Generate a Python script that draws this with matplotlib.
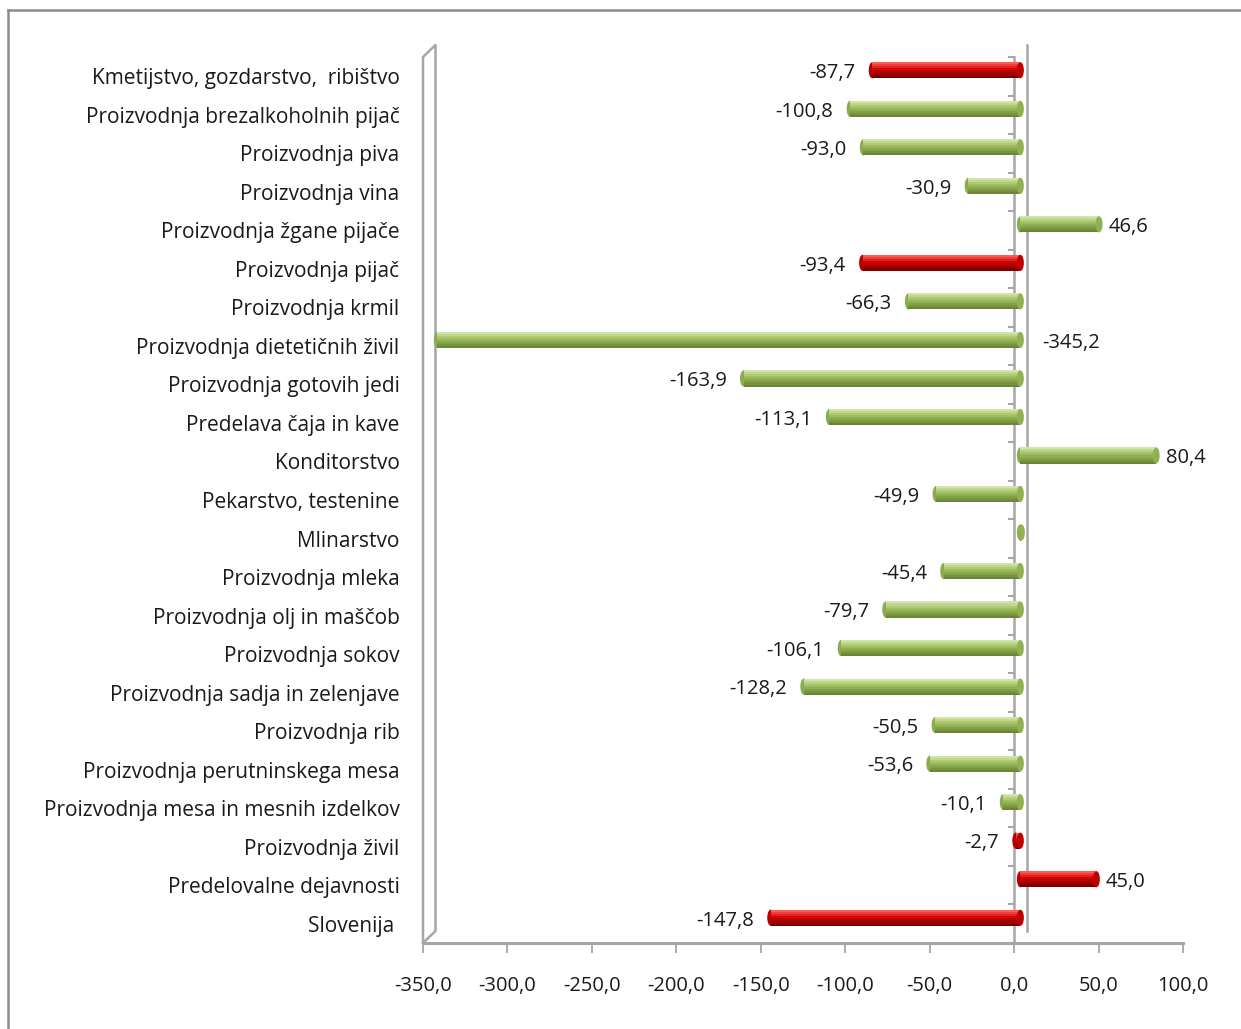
import matplotlib
matplotlib.use('Agg')
import matplotlib.pyplot as plt
from matplotlib.lines import Line2D
from matplotlib.patches import Ellipse
from matplotlib.colors import to_rgb
import numpy as np

# Data (top to bottom as in the chart)
categories = [
    'Kmetijstvo, gozdarstvo,  ribištvo',
    'Proizvodnja brezalkoholnih pijač',
    'Proizvodnja piva',
    'Proizvodnja vina',
    'Proizvodnja žgane pijače',
    'Proizvodnja pijač',
    'Proizvodnja krmil',
    'Proizvodnja dietetičnih živil',
    'Proizvodnja gotovih jedi',
    'Predelava čaja in kave',
    'Konditorstvo',
    'Pekarstvo, testenine',
    'Mlinarstvo',
    'Proizvodnja mleka',
    'Proizvodnja olj in maščob',
    'Proizvodnja sokov',
    'Proizvodnja sadja in zelenjave',
    'Proizvodnja rib',
    'Proizvodnja perutninskega mesa',
    'Proizvodnja mesa in mesnih izdelkov',
    'Proizvodnja živil',
    'Predelovalne dejavnosti',
    'Slovenija ',
]
values = [-87.7, -100.8, -93.0, -30.9, 46.6, -93.4, -66.3, -345.2, -163.9, -113.1,
          80.4, -49.9, 0.6, -45.4, -79.7, -106.1, -128.2, -50.5, -53.6, -10.1,
          -2.7, 45.0, -147.8]
highlighted = ['Kmetijstvo, gozdarstvo,  ribištvo', 'Proizvodnja pijač',
               'Proizvodnja živil', 'Predelovalne dejavnosti', 'Slovenija ']
x_ticks = [-350, -300, -250, -200, -150, -100, -50, 0, 50, 100]

plt.rcParams['font.family'] = ['Open Sans', 'DejaVu Sans']
text_color = '#1a1a1a'
line_color = '#a6a6a6'
fs = 14.5

fig = plt.figure(figsize=(12.41, 10.29), dpi=100)
W, H = 1241, 1029
ax = fig.add_axes([423 / W, 86 / H, 760 / W, 886 / H])

n = len(categories)
y = np.arange(n)
ax.set_xlim(-350, 100)
ax.set_ylim(n - 0.5, -0.5)

# depth vector of the 3D look (12 px right, 12 px up) in data units
p0 = ax.transData.transform((0, 0))
p1 = ax.transData.inverted().transform(p0 + np.array([12.5, 12.0]))
dx, dy = p1[0], p1[1]
cap_w = ax.transData.inverted().transform(p0 + np.array([7.0, 0]))[0]

# left wall
ax.plot([-350, -350, -350 + dx, -350 + dx, -350],
        [n - 0.5, -0.5, -0.5 + dy, n - 0.5 + dy, n - 0.5],
        color=line_color, lw=1.8, clip_on=False, zorder=1)
# front and back zero axis lines
ax.plot([0, 0], [n - 0.5, -0.5], color=line_color, lw=1.8, clip_on=False, zorder=1)
ax.plot([dx, dx], [n - 0.5 + dy, -0.5 + dy], color=line_color, lw=1.8,
        clip_on=False, zorder=1)
# small ticks on the zero axis at category boundaries
for b in np.arange(n + 1) - 0.5:
    ax.plot([-3.2, 0], [b, b], color=line_color, lw=1.5, clip_on=False, zorder=1)


def mix(c1, c2, t):
    a, b = np.array(to_rgb(c1)), np.array(to_rgb(c2))
    return tuple(a + (b - a) * t)


# bars drawn as shaded cylinders
yc = y + dy / 2
left = dx / 2
bar_h = 0.42
nb = 8
for i, (cat, v) in enumerate(zip(categories, values)):
    red = cat in highlighted
    light = '#ff5a50' if red else '#d3e4a8'
    main = '#d00000' if red else '#9bbb59'
    dark = '#7a0000' if red else '#6a8535'
    for k in range(nb):
        t = k / (nb - 1)
        c = mix(light, main, t / 0.45) if t < 0.45 else mix(main, dark, (t - 0.45) / 0.55)
        yy = yc[i] - bar_h / 2 + (k + 0.5) * bar_h / nb
        ax.barh(yy, v, left=left, height=bar_h / nb, color=c, linewidth=0, zorder=3)
    ends = sorted([left, left + v])
    ax.add_patch(Ellipse((ends[0], yc[i]), cap_w, bar_h, color=mix(main, dark, 0.3),
                         zorder=2.9, linewidth=0))
    ax.add_patch(Ellipse((ends[1], yc[i]), cap_w, bar_h, color=mix(main, dark, 0.2),
                         zorder=3.1, linewidth=0))

# value labels
for i, v in enumerate(values):
    if abs(v) < 1:
        continue
    lab = f'{v:.1f}'.replace('.', ',')
    end = v + left
    if v < 0 and end - 20 > -350:
        ax.annotate(lab, (end, yc[i]), xytext=(-12, -2), textcoords='offset points',
                    ha='right', va='center', fontsize=fs, color=text_color)
    elif v < 0:
        ax.annotate(lab, (left, yc[i]), xytext=(16, -2), textcoords='offset points',
                    ha='left', va='center', fontsize=fs, color=text_color)
    else:
        ax.annotate(lab, (end, yc[i]), xytext=(7, -2), textcoords='offset points',
                    ha='left', va='center', fontsize=fs, color=text_color)

# axes styling
for s in ['top', 'right', 'left']:
    ax.spines[s].set_visible(False)
ax.spines['bottom'].set_color(line_color)
ax.spines['bottom'].set_linewidth(2.2)
ax.set_xticks(x_ticks)
ax.set_xticklabels([f'{t:.1f}'.replace('.', ',') for t in x_ticks],
                   fontsize=fs, color=text_color)
ax.tick_params(axis='x', direction='out', length=7, width=1.3, colors=line_color,
               labelcolor=text_color, pad=17)
ax.set_yticks(y)
ax.set_yticklabels(categories, fontsize=15, color=text_color)
ax.tick_params(axis='y', length=0, pad=17)

# outer chart border (left and top)
fig.add_artist(Line2D([8 / W, 8 / W], [0, 1 - 10 / H], color='#8c8c8c', lw=1.8))
fig.add_artist(Line2D([8 / W, 1], [1 - 10 / H, 1 - 10 / H], color='#8c8c8c', lw=1.8))

fig.savefig('out.png', dpi=100)
